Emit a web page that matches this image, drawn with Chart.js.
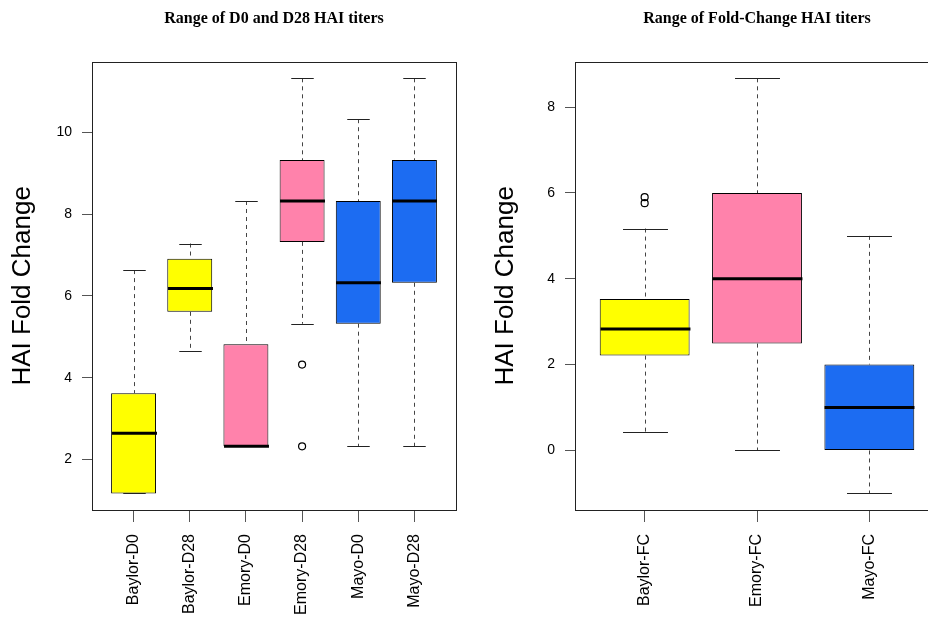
<!DOCTYPE html>
<html><head><meta charset="utf-8">
<script src="https://cdn.jsdelivr.net/npm/chart.js@4.4.1/dist/chart.umd.min.js"></script>
<style>
html,body{margin:0;padding:0;background:#fff;overflow:hidden;width:928px;height:618px;position:relative;}
#wrapL{position:absolute;left:0;top:0;width:464px;height:618px;}
#wrapR{position:absolute;left:464px;top:0;width:490px;height:618px;}
</style></head><body>
<div id="wrapL"><canvas id="cL"></canvas></div>
<div id="wrapR"><canvas id="cR"></canvas></div>
<script>
// ---------- data ----------
const leftTitle = 'Range of D0 and D28 HAI titers';
const rightTitle = 'Range of Fold-Change HAI titers';
const yAxisTitle = 'HAI Fold Change';

const leftCategories = ['Baylor-D0','Baylor-D28','Emory-D0','Emory-D28','Mayo-D0','Mayo-D28'];
const leftMin    = [1.17, 4.64, 2.32, 5.32, 2.32, 2.32];
const leftQ1     = [1.17, 5.61, 2.32, 7.32, 5.32, 6.32];
const leftMedian = [2.64, 6.18, 2.32, 8.32, 6.32, 8.32];
const leftQ3     = [3.62, 6.91, 4.82, 9.32, 8.32, 9.32];
const leftMax    = [6.63, 7.28, 8.32, 11.32, 10.32, 11.32];
const leftOutliers = [[], [], [], [4.32, 2.32], [], []];
const leftYTicks = [2, 4, 6, 8, 10];

const rightCategories = ['Baylor-FC','Emory-FC','Mayo-FC'];
const rightMin    = [0.42, 0.0, -1.0];
const rightQ1     = [2.21, 2.49, 0.0];
const rightMedian = [2.83, 4.0, 1.0];
const rightQ3     = [3.53, 6.0, 2.0];
const rightMax    = [5.17, 8.67, 5.0];
const rightOutliers = [[5.9, 5.76], [], []];
const rightYTicks = [0, 2, 4, 6, 8];

const YELLOW = '#FFFF00', PINK = '#FF82AB', BLUE = '#1C6CF2';
const leftColors = [YELLOW, YELLOW, PINK, PINK, BLUE, BLUE];
const rightColors = [YELLOW, PINK, BLUE];

// ---------- plugins ----------
const boxPlugin = {
  id: 'boxWhiskers',
  afterDatasetsDraw(chart, args, opts) {
    const s = opts.stats; if (!s) return;
    const {ctx} = chart; const x = chart.scales.x, y = chart.scales.y;
    const meta = chart.getDatasetMeta(0);
    const ln = (x1,y1,x2,y2)=>{ctx.beginPath();ctx.moveTo(x1,y1);ctx.lineTo(x2,y2);ctx.stroke();};
    ctx.save();
    s.cats.forEach((c,i)=>{
      const half = meta.data[i].width/2;
      const cx = Math.round(x.getPixelForValue(i+1)) + 0.5;
      const py = v => y.getPixelForValue(v);
      ctx.lineWidth = 1; ctx.strokeStyle = '#444'; ctx.setLineDash([4,4]);
      if (s.max[i] > s.q3[i]) ln(cx, py(s.max[i]), cx, py(s.q3[i]));
      if (s.min[i] < s.q1[i]) ln(cx, py(s.q1[i]), cx, py(s.min[i]));
      ctx.setLineDash([]); ctx.strokeStyle = '#222';
      ln(cx-half/2, Math.round(py(s.max[i]))+0.5, cx+half/2, Math.round(py(s.max[i]))+0.5);
      ln(cx-half/2, Math.round(py(s.min[i]))+0.5, cx+half/2, Math.round(py(s.min[i]))+0.5);
      ctx.lineWidth = 3; ctx.strokeStyle = '#000';
      ln(cx-half, py(s.med[i]), cx+half, py(s.med[i]));
    });
    ctx.restore();
  },
  afterDraw(chart) {
    const {ctx, chartArea:a} = chart;
    ctx.save(); ctx.strokeStyle = '#222'; ctx.lineWidth = 1;
    ctx.strokeRect(Math.round(a.left)+0.5, Math.round(a.top)+0.5, Math.round(a.right-a.left), Math.round(a.bottom-a.top));
    ctx.restore();
  }
};

function makeChart(id, cfg) {
  const n = cfg.cats.length;
  const all = [].concat(cfg.min, cfg.max, ...cfg.out);
  const lo = Math.min(...all), hi = Math.max(...all), r = hi - lo;
  const outPts = [];
  cfg.out.forEach((arr,i)=>arr.forEach(v=>outPts.push({x:i+1, y:v})));
  return new Chart(document.getElementById(id), {
    data: {
      datasets: [
        { type:'bar', data: cfg.cats.map((c,i)=>({x:i+1, y:[cfg.q1[i], cfg.q3[i]]})),
          backgroundColor: cfg.colors, borderColor:'#000', borderWidth:1, borderSkipped:false,
          categoryPercentage:1.0, barPercentage:0.8 },
        { type:'scatter', data: outPts, pointStyle:'circle', pointRadius:3.5,
          pointBorderColor:'#000', pointBackgroundColor:'rgba(0,0,0,0)', pointBorderWidth:1.2 }
      ]
    },
    options: {
      responsive:true, maintainAspectRatio:false, animation:false, devicePixelRatio:1,
      layout:{padding:{left:0, top:0, bottom:0, right:cfg.padRight}},
      scales: {
        x: { type:'linear', offset:false, min: 0.5 - 0.04*n, max: n + 0.5 + 0.04*n,
             afterBuildTicks: s => { s.ticks = cfg.cats.map((c,i)=>({value:i+1})); },
             afterFit: s => { s.height = 108; },
             ticks:{ autoSkip:false, maxRotation:90, minRotation:90, padding:12,
                     callback:(v,idx)=>cfg.cats[idx], color:'#000',
                     font:{family:'Liberation Sans, Arial, sans-serif', size:16} },
             grid:{ display:true, offset:false, drawOnChartArea:false, drawTicks:true, tickLength:12, color:'#555' },
             border:{display:false} },
        y: { type:'linear', min: lo - 0.04*r, max: hi + 0.04*r,
             afterBuildTicks: s => { s.ticks = cfg.yTicks.map(v=>({value:v})); },
             afterFit: s => { s.width = cfg.yWidth; },
             ticks:{ padding:10, color:'#000', font:{family:'Liberation Sans, Arial, sans-serif', size:14} },
             grid:{ display:true, drawOnChartArea:false, drawTicks:true, tickLength:10, color:'#555' },
             border:{display:false},
             title:{ display:true, text:yAxisTitle, color:'#000',
                     font:{family:'Liberation Sans, Arial, sans-serif', size:26},
                     padding:{top:cfg.yTitlePad, bottom:0} } }
      },
      plugins: {
        legend:{display:false}, tooltip:{enabled:false},
        title:{ display:true, text:cfg.title, fullSize:false, color:'#000',
                font:{family:'Liberation Serif, serif', size:16, weight:'bold'},
                padding:{top:9, bottom:33.5} },
        boxWhiskers:{ stats:{cats:cfg.cats, min:cfg.min, q1:cfg.q1, med:cfg.med, q3:cfg.q3, max:cfg.max} }
      }
    },
    plugins:[boxPlugin]
  });
}

makeChart('cL', {cats:leftCategories, min:leftMin, q1:leftQ1, med:leftMedian, q3:leftQ3, max:leftMax,
  out:leftOutliers, colors:leftColors, yTicks:leftYTicks, title:leftTitle, yWidth:92, yTitlePad:7, padRight:8});
makeChart('cR', {cats:rightCategories, min:rightMin, q1:rightQ1, med:rightMedian, q3:rightQ3, max:rightMax,
  out:rightOutliers, colors:rightColors, yTicks:rightYTicks, title:rightTitle, yWidth:111, yTitlePad:26, padRight:15});
</script>
</body></html>
